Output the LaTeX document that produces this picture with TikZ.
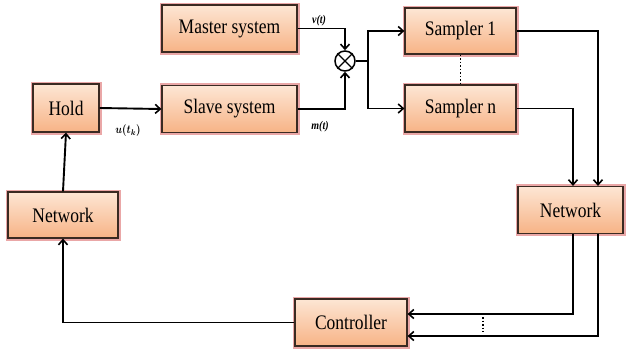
\documentclass[tikz,border=0pt]{standalone}
\usepackage{amsmath}
\usepackage{fontspec}
\setmainfont{Liberation Serif}
\usetikzlibrary{arrows.meta,calc}
\definecolor{boxtop}{HTML}{FDE6D4}
\definecolor{boxbot}{HTML}{F7B386}
\definecolor{glow}{HTML}{E38A8A}
\definecolor{edge}{HTML}{3A2A22}
\newcommand{\tallt}[1]{\scalebox{1}[1.18]{#1}}
\begin{document}
\begin{tikzpicture}[x=1pt,y=-1pt,
  blk/.style={draw=edge, line width=1.2pt, top color=boxtop, bottom color=boxbot,
    preaction={draw=glow, line width=5pt, opacity=0.75},
    inner sep=0pt, font=\fontsize{17.5}{20}\selectfont},
  conn/.style={line width=1.9pt, -{Straight Barb[length=5pt,width=9pt,line width=1.6pt]}},
  plain/.style={line width=1.9pt},
  sig/.style={font=\fontsize{10}{12}\selectfont\bfseries\itshape}]
\useasboundingbox (0,0) rectangle (626,354);
\node[blk, minimum width=135pt, minimum height=47pt] (master) at (229.5,28.5) {\tallt{Master system}};
\node[blk, minimum width=135pt, minimum height=47pt] (slave) at (229.5,109) {\tallt{Slave system}};
\node[blk, minimum width=66pt, minimum height=48pt] (hold) at (66,108) {\tallt{Hold}};
\node[blk, minimum width=110pt, minimum height=46pt] (netL) at (63,215) {\tallt{Network}};
\node[blk, minimum width=111pt, minimum height=46pt] (s1) at (460.5,31) {\tallt{Sampler 1}};
\node[blk, minimum width=111pt, minimum height=47pt] (sn) at (460.5,108.5) {\tallt{Sampler n}};
\node[blk, minimum width=105pt, minimum height=47pt] (netR) at (570.5,210) {\tallt{Network}};
\node[blk, minimum width=112pt, minimum height=47pt] (ctrl) at (351,322.5) {\tallt{Controller}};
\node[draw, line width=1.5pt, circle, minimum size=20pt, inner sep=0pt] (mix) at (345,61) {};
\draw[line width=1.3pt] (mix.north west) -- (mix.south east) (mix.north east) -- (mix.south west);
% signal paths
\draw[conn] (master.east) -| (mix.north);
\draw[conn] (slave.east) -| (mix.south);
\coordinate (br) at (368,61);
\draw[plain] (mix.east) -- (br);
\draw[conn] (br) |- (s1.west);
\draw[conn] (br) |- (sn.west);
\draw[conn] (hold.east) -- (slave.west);
\draw[conn] (netL.north) -- (hold.south);
\draw[conn] (s1.east) -| (598,0 |- netR.north);
\draw[conn] (sn.east) -| (573,0 |- netR.north);
\coordinate (a1) at (573,0 |- netR.south);
\coordinate (a2) at (598,0 |- netR.south);
\draw[conn] (a1) |- (ctrl.east |- 0,314);
\draw[conn] (a2) |- (ctrl.east |- 0,336);
\draw[conn] (ctrl.west) -| (netL.south);
\draw[line width=1.5pt, dotted] (s1.south) -- (sn.north);
\coordinate (d1) at (483,317);
\coordinate (d2) at (483,332);
\draw[line width=1.5pt, dotted] (d1) -- (d2);
% labels
\node[sig] (lv) at (319,21) {\tallt{v(t)}};
\node[sig] (lm) at (320,127) {\tallt{m(t)}};
\node[font=\fontsize{10}{12}\selectfont] (lu) at (128,131) {\tallt{$\boldsymbol{u(t_k)}$}};
\end{tikzpicture}
\end{document}
